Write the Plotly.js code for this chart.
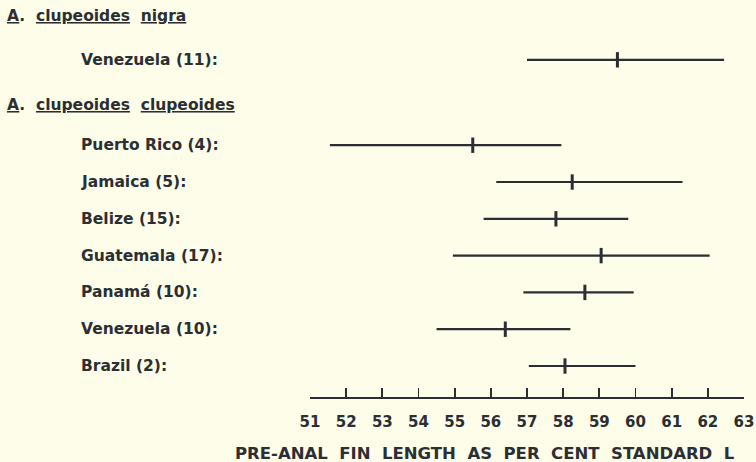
<!DOCTYPE html>
<html>
<head>
<meta charset="utf-8">
<script src="https://cdn.plot.ly/plotly-3.0.1.min.js"></script>
<style>html,body{margin:0;padding:0;background:#fdfde9;}</style>
</head>
<body>
<div id="chart" style="width:756px;height:462px;"></div>
<script>
// ---- data ----
var groupGenus = ["A", "A"];
var groupSpecies = ["clupeoides", "clupeoides"];
var groupSubspecies = ["nigra", "clupeoides"];
var rowGroup  = [0, 1, 1, 1, 1, 1, 1, 1];
var rowLabels = ["Venezuela (11):", "Puerto Rico (4):", "Jamaica (5):", "Belize (15):",
                 "Guatemala (17):", "Panamá (10):", "Venezuela (10):", "Brazil (2):"];
var rangeMin  = [57.0, 51.55, 56.15, 55.8, 54.95, 56.9, 54.5, 57.05];
var rangeMean = [59.5, 55.5, 58.25, 57.8, 59.05, 58.6, 56.4, 58.05];
var rangeMax  = [62.45, 57.95, 61.3, 59.8, 62.05, 59.95, 58.2, 60.0];
var xTicks = [51, 52, 53, 54, 55, 56, 57, 58, 59, 60, 61, 62, 63];
var xTitle = "PRE-ANAL  FIN  LENGTH  AS  PER  CENT  STANDARD  L";

// ---- layout helpers ----
var W = 756, H = 462;
var ML = 310, MR = 12, MT = 10, MB = 65;
var ink = "#2b2f33";
var FONT = "DejaVu Sans";

// vertical placement: rows spaced one unit apart, with a heading slot before each group
var rowY = [], headY = [];
(function(){
  var y = 0;
  for (var i = rowGroup.length - 1; i >= 0; i--) {
    rowY[i] = y;
    if (i === 0 || rowGroup[i-1] !== rowGroup[i]) {
      headY[rowGroup[i]] = y + 1.1;
      y += 2.32;
    } else {
      y += 1;
    }
  }
})();
headY[0] = rowY[0] + 1.2;

var errPlus = rangeMax.map(function(v,i){return v - rangeMean[i];});
var errMinus = rangeMean.map(function(v,i){return v - rangeMin[i];});

var trace = {
  type: "scatter", mode: "markers",
  x: rangeMean, y: rowY,
  marker: {symbol: "line-ns", size: 11, line: {width: 3, color: ink}, color: ink},
  error_x: {type: "data", symmetric: false, array: errPlus, arrayminus: errMinus,
            width: 0, thickness: 2.2, color: ink},
  hoverinfo: "skip", showlegend: false, cliponaxis: false
};

function px2paperX(px){ return (px - ML) / (W - ML - MR); }

var lblFont = {family: FONT, size: 15.5, color: ink, weight: "bold"};
var annotations = [];
rowLabels.forEach(function(t, i){
  annotations.push({xref: "paper", yref: "y", x: px2paperX(79), y: rowY[i],
    xanchor: "left", yanchor: "middle", text: t, showarrow: false, font: lblFont});
});
groupGenus.forEach(function(g, k){
  annotations.push({xref: "paper", yref: "y", x: px2paperX(5), y: headY[k],
    xanchor: "left", yanchor: "middle",
    text: "<u>" + g + "</u>.  <u>" + groupSpecies[k] + "</u>  <u>" + groupSubspecies[k] + "</u>",
    showarrow: false, font: lblFont});
});
annotations.push({xref: "paper", yref: "paper", x: px2paperX(233), y: -(453 - (H - MB)) / (H - MT - MB),
  xanchor: "left", yanchor: "middle", text: xTitle, showarrow: false,
  font: {family: FONT, size: 16.5, color: ink, weight: "bold"}});

var layout = {
  width: W, height: H,
  margin: {l: ML, r: MR, t: MT, b: MB, pad: 0},
  paper_bgcolor: "#fdfde9", plot_bgcolor: "#fdfde9",
  showlegend: false,
  xaxis: {range: [51, 63], tickmode: "array", tickvals: xTicks, ticktext: xTicks.map(String),
          ticks: "inside", ticklen: 9, tickwidth: 1.8, tickcolor: ink,
          showline: true, linewidth: 2, linecolor: ink, showgrid: false, zeroline: false,
          ticklabelstandoff: 10,
          tickfont: {family: FONT, size: 15, color: ink, weight: "bold"}, fixedrange: true},
  yaxis: {range: [-0.842, 9.674], visible: false, showgrid: false, zeroline: false, fixedrange: true},
  annotations: annotations
};

Plotly.newPlot("chart", [trace], layout, {staticPlot: true, displayModeBar: false});
</script>
</body>
</html>
